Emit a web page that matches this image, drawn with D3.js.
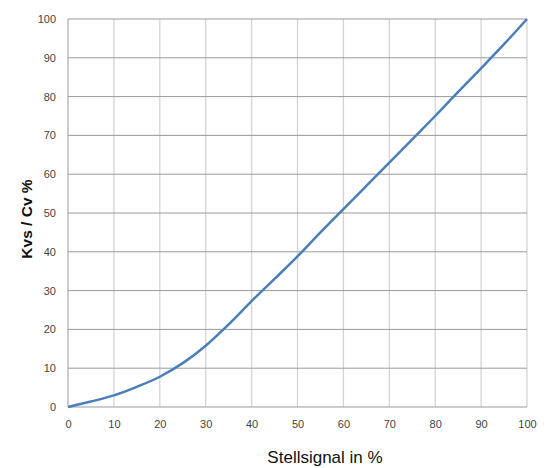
<!DOCTYPE html>
<html>
<head>
<meta charset="utf-8">
<script src="https://cdn.jsdelivr.net/npm/d3@7"></script>
<style>
  body { margin: 0; background: #fff; }
  text { font-family: "Liberation Sans", Arial, sans-serif; }
</style>
</head>
<body>
<div id="chart"></div>
<script>
// signal (%) and Kvs/Cv (%)
const signal = [0, 5, 10, 15, 20, 25, 30, 35, 40, 45, 50, 55, 60, 65, 70, 75, 80, 85, 90, 95, 100];
const kvs = [0, 1.4, 3, 5.2, 7.8, 11.3, 15.8, 21.3, 27.3, 33, 38.8, 45, 51, 57, 63, 69, 75, 81.2, 87.3, 93.5, 100];
const xTicks = [0, 10, 20, 30, 40, 50, 60, 70, 80, 90, 100];
const yTicks = [0, 10, 20, 30, 40, 50, 60, 70, 80, 90, 100];

const margin = {top: 19, right: 21, bottom: 61, left: 68},
    width = 548 - margin.left - margin.right,
    height = 468 - margin.top - margin.bottom;

const svg = d3.select("#chart")
  .append("svg")
    .attr("width", 548)
    .attr("height", 468)
  .append("g")
    .attr("transform", `translate(${margin.left},${margin.top})`);

const x = d3.scaleLinear().domain([0, 100]).range([0, width]);
const y = d3.scaleLinear().domain([0, 100]).range([height, 0]);

// vertical grid (light)
svg.selectAll(".vgrid")
  .data(xTicks.slice(1))
  .enter()
  .append("line")
    .attr("x1", d => x(d)).attr("x2", d => x(d))
    .attr("y1", 0).attr("y2", height)
    .attr("stroke", "#d4d4d4")
    .attr("stroke-width", 1.3);

// horizontal grid (darker)
svg.selectAll(".hgrid")
  .data(yTicks)
  .enter()
  .append("line")
    .attr("x1", 0).attr("x2", width)
    .attr("y1", d => y(d)).attr("y2", d => y(d))
    .attr("stroke", "#9a9a9a")
    .attr("stroke-width", 1);

// left axis line
svg.append("line")
  .attr("x1", 0).attr("x2", 0)
  .attr("y1", 0).attr("y2", height)
  .attr("stroke", "#9a9a9a");

// Y tick labels
svg.append("g")
  .call(d3.axisLeft(y).tickValues(yTicks).tickSize(0).tickPadding(12))
  .call(g => g.select(".domain").remove())
  .selectAll("text")
    .attr("fill", "#444")
    .style("font-size", "11px")
    .style("font-family", "Liberation Sans, Arial, sans-serif");

// X tick labels
svg.append("g")
  .attr("transform", `translate(0,${height})`)
  .call(d3.axisBottom(x).tickValues(xTicks).tickSize(0).tickPadding(13))
  .call(g => g.select(".domain").remove())
  .selectAll("text")
    .attr("fill", "#444")
    .style("font-size", "11px")
    .style("font-family", "Liberation Sans, Arial, sans-serif");

// curve
const line = d3.line()
  .x((d, i) => x(signal[i]))
  .y(d => y(d))
  .curve(d3.curveMonotoneX);

svg.append("path")
  .datum(kvs)
  .attr("fill", "none")
  .attr("stroke", "#4a7ebb")
  .attr("stroke-width", 2.5)
  .attr("d", line);

// axis titles
svg.append("text")
  .attr("x", 325 - margin.left)
  .attr("y", 463 - margin.top)
  .attr("text-anchor", "middle")
  .style("font-size", "17px")
  .attr("fill", "#111")
  .text("Stellsignal in %");

svg.append("text")
  .attr("transform", "rotate(-90)")
  .attr("x", -(219 - margin.top))
  .attr("y", 32 - margin.left)
  .attr("text-anchor", "middle")
  .style("font-size", "15.5px")
  .style("font-weight", "bold")
  .attr("fill", "#111")
  .text("Kvs / Cv %");
</script>
</body>
</html>
